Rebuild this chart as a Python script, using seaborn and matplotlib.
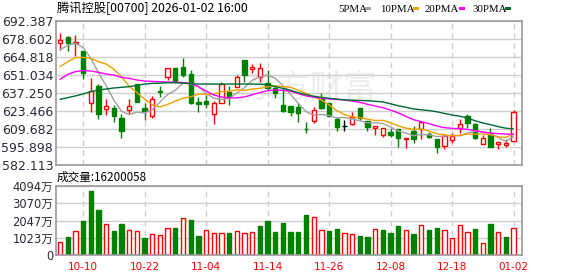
import numpy as np
import pandas as pd
import matplotlib
matplotlib.use("Agg")
import matplotlib.pyplot as plt
from matplotlib.patches import Rectangle
import seaborn as sns

# ---------------- data ----------------
dates = ["10-06", "10-08", "10-09", "10-10", "10-13", "10-14", "10-15", "10-16", "10-17", "10-20",
         "10-21", "10-22", "10-23", "10-24", "10-27", "10-28", "10-30", "10-31", "11-03", "11-04",
         "11-05", "11-06", "11-07", "11-10", "11-11", "11-12", "11-13", "11-14", "11-17", "11-18",
         "11-19", "11-20", "11-21", "11-24", "11-25", "11-26", "11-27", "11-28", "12-01", "12-02",
         "12-03", "12-04", "12-05", "12-08", "12-09", "12-10", "12-11", "12-12", "12-15", "12-16",
         "12-17", "12-18", "12-19", "12-22", "12-23", "12-24", "12-29", "12-30", "12-31", "01-02"]

opens = [675.8, 680.4, 675.7, 669.4, 629.8, 642.6, 624.8, 626.0, 618.3, 624.5,
         643.9, 626.0, 619.6, 638.9, 649.3, 656.2, 656.9, 651.8, 630.6, 631.4,
         621.2, 629.8, 638.2, 641.6, 662.5, 655.4, 649.7, 645.1, 640.9, 628.1,
         627.3, 626.3, 609.8, 615.8, 632.6, 629.4, 617.6, 611.9, 613.5, 625.5,
         616.0, 610.2, 605.1, 607.6, 609.7, 602.3, 608.2, 609.3, 605.9, 602.0,
         596.7, 601.3, 610.2, 619.6, 613.5, 598.2, 606.4, 598.5, 597.2, 600.7]
highs = [683.0, 681.0, 681.7, 669.6, 648.5, 644.1, 632.4, 628.1, 620.9, 632.6,
         644.2, 629.4, 634.9, 642.6, 656.5, 656.5, 663.8, 654.9, 634.0, 635.7,
         631.4, 645.4, 642.6, 651.1, 662.5, 659.5, 660.0, 655.0, 642.1, 640.9,
         627.3, 629.4, 615.3, 626.3, 637.0, 629.6, 619.1, 616.6, 622.9, 625.5,
         616.0, 612.0, 610.2, 610.2, 609.7, 602.8, 612.0, 615.3, 607.6, 602.0,
         605.9, 606.4, 617.4, 621.2, 614.1, 605.1, 610.2, 600.0, 601.8, 624.2]
lows = [670.2, 669.6, 665.6, 647.7, 622.9, 617.1, 620.6, 615.3, 602.5, 620.9,
        630.2, 616.6, 618.3, 634.0, 647.2, 644.7, 649.3, 629.0, 622.9, 625.5,
        613.3, 629.5, 628.1, 641.6, 645.9, 652.3, 645.9, 639.5, 633.2, 623.0,
        619.6, 615.3, 606.4, 614.0, 625.0, 619.0, 608.1, 608.4, 612.7, 616.6,
        608.4, 605.0, 603.8, 603.8, 596.1, 594.9, 599.2, 601.8, 602.5, 591.5,
        594.1, 599.2, 606.9, 610.2, 602.0, 598.0, 596.0, 594.1, 596.1, 600.5]
closes = [677.8, 675.6, 676.0, 652.3, 639.0, 621.2, 627.3, 619.9, 608.4, 627.0,
          630.6, 623.5, 632.4, 638.0, 656.2, 646.3, 651.0, 629.4, 628.6, 628.9,
          629.5, 644.1, 633.9, 649.3, 651.1, 656.9, 656.2, 641.3, 637.0, 623.7,
          622.9, 621.7, 609.5, 624.2, 625.5, 619.6, 611.5, 611.9, 619.1, 617.9,
          611.0, 612.0, 610.2, 605.1, 602.5, 602.8, 601.8, 615.3, 603.3, 596.1,
          604.3, 604.6, 613.3, 614.5, 602.5, 603.0, 596.1, 600.0, 599.0, 622.5]
# volume in 万 shares
volumes = [771, 1068, 1404, 2017, 3797, 2670, 1820, 1424, 1839, 1464,
           1404, 1009, 1246, 1187, 1582, 1602, 2175, 2077, 1127, 1483,
           1305, 1305, 1305, 1404, 1305, 1365, 1721, 2017, 1365, 1899,
           1365, 1365, 2373, 2235, 1464, 1424, 1523, 1305, 1226, 1127,
           1068, 1523, 1483, 1305, 1721, 1464, 1246, 1760, 1483, 1602,
           1464, 989, 1760, 1365, 1543, 712, 1839, 1365, 1068, 1620]
ma5 = [670.5, 673.5, 675.5, 672.0, 664.0, 652.7, 643.0, 631.9, 623.2, 620.8,
       622.6, 621.9, 624.4, 630.3, 636.1, 639.3, 644.8, 644.2, 642.3, 636.8,
       633.5, 632.2, 633.1, 637.2, 641.4, 647.1, 649.5, 651.0, 648.5, 643.0,
       636.2, 629.3, 623.0, 620.4, 620.8, 620.1, 618.1, 618.5, 617.5, 616.0,
       614.3, 614.4, 614.0, 611.2, 608.2, 606.6, 604.5, 605.5, 605.2, 603.9,
       604.2, 604.8, 604.4, 606.6, 607.9, 607.6, 606.0, 603.2, 600.1, 604.1]
ma10 = [657.4, 661.2, 664.3, 664.6, 663.8, 661.2, 659.4, 655.4, 649.7, 642.4,
        637.7, 632.5, 628.2, 626.6, 628.5, 631.0, 633.3, 634.3, 636.3, 636.4,
        636.3, 638.3, 638.5, 639.7, 639.2, 640.3, 640.8, 642.0, 642.8, 642.2,
        641.6, 639.4, 637.0, 634.5, 631.9, 628.2, 623.7, 620.8, 619.0, 618.4,
        617.2, 616.2, 616.3, 614.4, 612.1, 610.4, 609.4, 609.7, 608.2, 606.0,
        605.3, 604.5, 604.9, 605.8, 605.8, 605.9, 605.3, 603.7, 603.3, 605.9]
ma20 = [647.7, 651.5, 653.6, 654.4, 654.1, 653.1, 651.8, 651.0, 649.2, 648.5,
        647.2, 646.4, 646.1, 645.9, 645.6, 645.6, 645.2, 644.6, 642.1, 638.8,
        635.7, 634.2, 633.5, 633.5, 634.3, 635.9, 637.6, 639.0, 639.6, 639.3,
        638.6, 636.8, 635.0, 634.0, 633.3, 632.7, 632.3, 631.9, 631.1, 630.1,
        628.6, 627.3, 626.0, 624.2, 622.0, 619.3, 616.8, 615.3, 613.8, 612.0,
        610.7, 610.2, 609.9, 609.4, 608.4, 607.3, 606.6, 606.1, 605.8, 605.6]
ma30 = [632.4, 633.7, 635.0, 636.5, 638.3, 639.5, 640.3, 641.1, 641.6, 642.1,
        643.1, 644.1, 644.6, 644.8, 645.1, 645.1, 644.8, 644.4, 644.1, 644.1,
        644.1, 644.1, 644.1, 644.1, 644.1, 644.1, 644.0, 643.6, 642.1, 640.8,
        639.3, 637.5, 636.0, 634.8, 633.9, 633.2, 632.6, 632.0, 631.7, 631.5,
        631.3, 630.9, 630.4, 629.0, 627.5, 626.3, 625.0, 624.4, 623.8, 622.9,
        621.6, 620.4, 619.5, 618.0, 616.0, 614.3, 613.0, 611.5, 610.3, 609.7]

price_ticks = [582.113, 595.898, 609.682, 623.466, 637.250, 651.034, 664.818, 678.602, 692.387]
price_tick_labels = ["582.113", "595.898", "609.682", "623.466", "637.250",
                     "651.034", "664.818", "678.602", "692.387"]
vol_ticks = [0, 1023, 2047, 3070, 4094]
vol_tick_labels = ["0", "1023万", "2047万", "3070万", "4094万"]
ma_names = ["5PMA", "10PMA", "20PMA", "30PMA"]
title_text = "腾讯控股[00700] 2026-01-02 16:00"
vol_title = "成交量:16200058"

# ---------------- style ----------------
RED = "#ff0000"
GREEN = "#008000"
BLACK = "#000000"
MA_COLORS = {"5PMA": "#a0a0a0", "10PMA": "#f0a000", "20PMA": "#ff00ff", "30PMA": "#006a35"}
GRID = "#cfcfcf"
FRAME = "#9a9a9a"

sns.set_theme(style="white")
plt.rcParams["font.family"] = ["DejaVu Sans", "Noto Sans CJK SC"]

W, H = 578, 276
fig = plt.figure(figsize=(W / 100, H / 100), dpi=100)
fig.patch.set_facecolor("white")


def rect(l, t, r, b):
    return [l / W, 1 - b / H, (r - l) / W, (b - t) / H]


ax = fig.add_axes(rect(56, 21, 522, 165))
axv = fig.add_axes(rect(56, 186, 522, 255))

x = np.arange(len(dates))
o = np.array(opens); c = np.array(closes); hi = np.array(highs); lo = np.array(lows)
bw = 0.56

# watermark
ax.text(0.545, 0.535, "东方财富", transform=ax.transAxes, ha="center", va="center",
        fontsize=24, color="#ededed", family=["Noto Sans CJK SC"], zorder=0.5)

# candles
for i in x:
    if c[i] > o[i]:
        col, fc = RED, "white"
    elif c[i] < o[i]:
        col, fc = GREEN, GREEN
    else:
        col, fc = BLACK, BLACK
    ax.vlines(i, lo[i], hi[i], color=col, lw=1.0, zorder=1.5)
    bottom = min(o[i], c[i])
    height = max(abs(c[i] - o[i]), 0.15)
    ax.add_patch(Rectangle((i - bw / 2, bottom), bw, height, facecolor=fc,
                           edgecolor=col, lw=1.0, zorder=2))

# moving averages
ma_df = pd.DataFrame({"x": np.tile(x, 4),
                      "v": np.concatenate([ma5, ma10, ma20, ma30]),
                      "ma": np.repeat(ma_names, len(x))})
sns.lineplot(data=ma_df, x="x", y="v", hue="ma", palette=MA_COLORS, ax=ax,
             legend=False, lw=1.0, zorder=3)

# volume
prev = np.r_[o[0], c[:-1]]
up = c >= prev
for i in x:
    if up[i]:
        axv.bar(i, volumes[i], width=bw, facecolor="white", edgecolor=RED, lw=1.0, zorder=2)
    else:
        axv.bar(i, volumes[i], width=bw, facecolor=GREEN, edgecolor=GREEN, lw=1.0, zorder=2)

# axes setup
tick_idx = list(range(3, len(dates), 8))
for a in (ax, axv):
    a.set_xlim(-0.52, 60.1)
    a.set_xticks(tick_idx)
    a.grid(axis="y", color=GRID, lw=1.0, ls="-", zorder=0)
    a.grid(axis="x", color=GRID, lw=1.0, ls=(0, (4, 3)), zorder=0)
    a.set_axisbelow(True)
    a.set_xlabel("")
    a.set_ylabel("")
    for s in a.spines.values():
        s.set_color(FRAME)
        s.set_linewidth(1.2)
    a.tick_params(length=0)

ax.set_ylim(price_ticks[0], price_ticks[-1])
ax.set_yticks(price_ticks)
ax.set_yticklabels(price_tick_labels, fontsize=9, color="#2a2a3a")
ax.tick_params(axis="y", pad=2)
ax.set_xticklabels([])

axv.set_ylim(0, vol_ticks[-1])
axv.set_yticks(vol_ticks)
axv.set_yticklabels(vol_tick_labels, fontsize=8.3, color="#2a2a3a")
axv.tick_params(axis="y", pad=2)
axv.set_xticklabels([dates[i] for i in tick_idx], fontsize=7.5, color=RED)
axv.tick_params(axis="x", pad=5)

# titles
fig.text(57 / W, 1 - 8.5 / H, title_text, ha="left", va="center", fontsize=8.8,
         family=["Noto Sans CJK SC", "DejaVu Sans"], color="#000000")
fig.text(57 / W, 1 - 177.5 / H, vol_title, ha="left", va="center", fontsize=8.4,
         family=["Noto Sans CJK SC", "DejaVu Sans"], color="#000000")

# legend
leg_x = [338, 380, 425, 472]
sq_x = [365, 413, 459, 505]
for name, lx, sx in zip(ma_names, leg_x, sq_x):
    fig.text(lx / W, 1 - 9.3 / H, name, ha="left", va="center", fontsize=7.8,
             family=["Liberation Serif"], color="#000000")
    fig.patches.append(Rectangle((sx / W, 1 - 10.3 / H), 6 / W, 3 / H,
                                 transform=fig.transFigure, facecolor=MA_COLORS[name],
                                 edgecolor="none"))

fig.savefig("out.png", dpi=100, facecolor="white")
